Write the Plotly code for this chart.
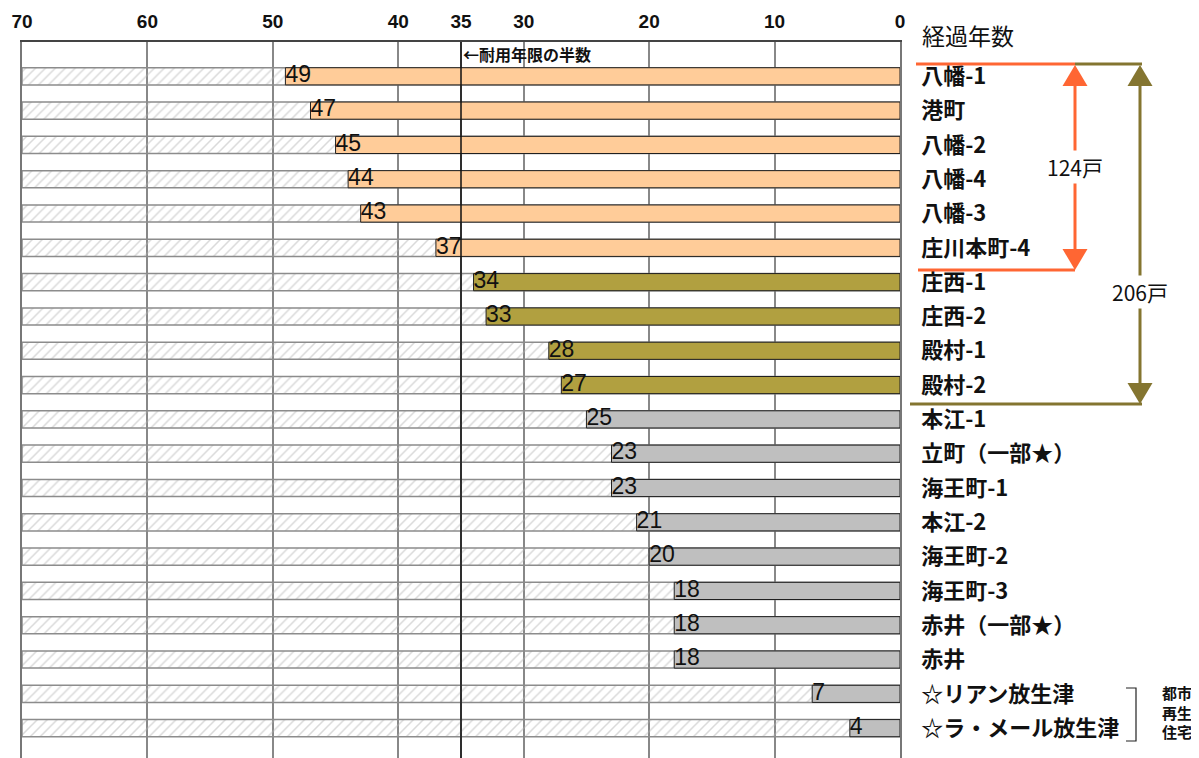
import plotly.graph_objects as go

# ---- data ----
categories = ["八幡-1", "港町", "八幡-2", "八幡-4", "八幡-3", "庄川本町-4",
              "庄西-1", "庄西-2", "殿村-1", "殿村-2",
              "本江-1", "立町（一部★）", "海王町-1", "本江-2", "海王町-2",
              "海王町-3", "赤井（一部★）", "赤井",
              "☆リアン放生津", "☆ラ・メール放生津"]
years = [49, 47, 45, 44, 43, 37, 34, 33, 28, 27, 25, 23, 23, 21, 20, 18, 18, 18, 7, 4]
groups = ["A"] * 6 + ["B"] * 4 + ["C"] * 10
full_span = [70] * len(categories)
tick_vals = [70, 60, 50, 40, 35, 30, 20, 10, 0]
tick_text = ["70", "60", "50", "40", "35", "30", "20", "10", "0"]
half_life = 35

group_colors = {"A": "#FFCC99", "B": "#B1A040", "C": "#BFBFBF"}
bar_colors = [group_colors[g] for g in groups]

# ---- page-pixel -> paper helpers (page has an 8px body margin) ----
OFF = 8
W, H = 1199 - OFF, 758 - OFF
PL, PR, PT, PB = 22 - OFF, 900 - OFF, 42 - OFF, 758 - OFF
def px(x):
    return (x - OFF - PL) / (PR - PL)
def py(y):
    return (PB - (y - OFF)) / (PB - PT)

fig = go.Figure()

# hatched background bars
fig.add_trace(go.Bar(
    y=categories, x=full_span, orientation="h", width=0.5,
    marker=dict(color="rgba(255,255,255,0)",
                line=dict(color="#8C8C8C", width=1.5),
                pattern=dict(shape="/", fgcolor="#B4B4B4", bgcolor="rgba(255,255,255,0)",
                             size=7, solidity=0.22)),
    hoverinfo="skip", showlegend=False))

# coloured bars
fig.add_trace(go.Bar(
    y=categories, x=years, orientation="h", width=0.5,
    marker=dict(color=bar_colors, line=dict(color="#202020", width=1)),
    showlegend=False))

# value labels
fig.add_trace(go.Scatter(
    y=categories, x=years, mode="text", text=[str(v) for v in years],
    textposition="middle right", cliponaxis=False,
    textfont=dict(family="Liberation Sans, Arial, sans-serif", size=23, color="#111111"),
    hoverinfo="skip", showlegend=False))

shapes = []
# half-life line
shapes.append(dict(type="line", xref="x", yref="paper", x0=half_life, x1=half_life,
                   y0=0, y1=1, line=dict(color="#111111", width=1.5), layer="above"))

orange = "#FF6633"
olive = "#847530"
def hline(x0, x1, y, c):
    shapes.append(dict(type="line", xref="paper", yref="paper", x0=px(x0), x1=px(x1),
                       y0=py(y), y1=py(y), line=dict(color=c, width=3)))
def vline(x, y0, y1, c):
    shapes.append(dict(type="line", xref="paper", yref="paper", x0=px(x), x1=px(x),
                       y0=py(y0), y1=py(y1), line=dict(color=c, width=3)))
def tri(cx, tip, base, c):
    path = "M {} {} L {} {} L {} {} Z".format(px(cx), py(tip), px(cx - 12.5), py(base),
                                              px(cx + 12.5), py(base))
    shapes.append(dict(type="path", xref="paper", yref="paper", path=path,
                       fillcolor=c, line=dict(color=c, width=0)))

# orange bracket (124戸)
hline(916, 1075, 64, orange)
hline(918, 1075, 270, orange)
vline(1075, 80, 255, orange)
tri(1075, 65, 86, orange)
tri(1075, 270, 249, orange)
# olive bracket (206戸)
hline(1075, 1142, 64, olive)
hline(910, 1142, 404, olive)
vline(1140, 80, 390, olive)
tri(1140, 65, 86, olive)
tri(1140, 404, 383, olive)

# small bracket for 都市再生住宅
shapes.append(dict(type="path", xref="paper", yref="paper",
                   path="M {} {} L {} {} L {} {} L {} {}".format(
                       px(1126), py(688), px(1136), py(688), px(1136), py(741), px(1126), py(741)),
                   line=dict(color="#222222", width=1.2)))

annotations = [
    dict(text="経過年数", xref="paper", yref="paper", x=px(920), y=py(35),
         xanchor="left", yanchor="middle", showarrow=False,
         font=dict(family="Noto Sans CJK JP", size=23, color="#111111")),
    dict(text="←耐用年限の半数", xref="x", yref="paper", x=half_life, y=py(54),
         xanchor="left", yanchor="middle", showarrow=False,
         font=dict(family="Noto Sans CJK JP", size=16, color="#111111", weight="bold")),
    dict(text="124戸", xref="paper", yref="paper", x=px(1075), y=py(167),
         xanchor="center", yanchor="middle", showarrow=False, bgcolor="white",
         font=dict(family="Noto Sans CJK JP", size=21, color="#111111")),
    dict(text="206戸", xref="paper", yref="paper", x=px(1140), y=py(292),
         xanchor="center", yanchor="middle", showarrow=False, bgcolor="white",
         font=dict(family="Noto Sans CJK JP", size=21, color="#111111")),
    dict(text="都市<br>再生<br>住宅", xref="paper", yref="paper", x=px(1177), y=py(712),
         xanchor="center", yanchor="middle", showarrow=False, align="center",
         font=dict(family="Noto Sans CJK JP", size=15, color="#111111", weight="bold")),
]

fig.update_layout(
    width=W, height=H,
    margin=dict(l=PL, r=W - PR, t=PT, b=H - PB, pad=0, autoexpand=False),
    barmode="overlay",
    plot_bgcolor="white", paper_bgcolor="white",
    shapes=shapes, annotations=annotations,
    xaxis=dict(side="top", range=[70, 0], tickvals=tick_vals, ticktext=tick_text,
               automargin=False,
               showgrid=True, gridcolor="#888888", gridwidth=1.5, zeroline=False,
               showline=True, linecolor="#444444", linewidth=1.5, ticks="",
               ticklabelstandoff=5,
               tickfont=dict(family="Liberation Sans, Arial, sans-serif", size=19,
                             color="#111111", weight="bold")),
    yaxis=dict(type="category", range=[19.87, -1], side="right", showgrid=False,
               automargin=False,
               zeroline=False, showline=True, mirror=True, linecolor="#777777", linewidth=1.5,
               ticks="", ticklabelstandoff=15,
               tickfont=dict(family="Noto Sans CJK JP", size=22, color="#111111",
                             weight="bold")),
)

fig.write_html("out.html")
